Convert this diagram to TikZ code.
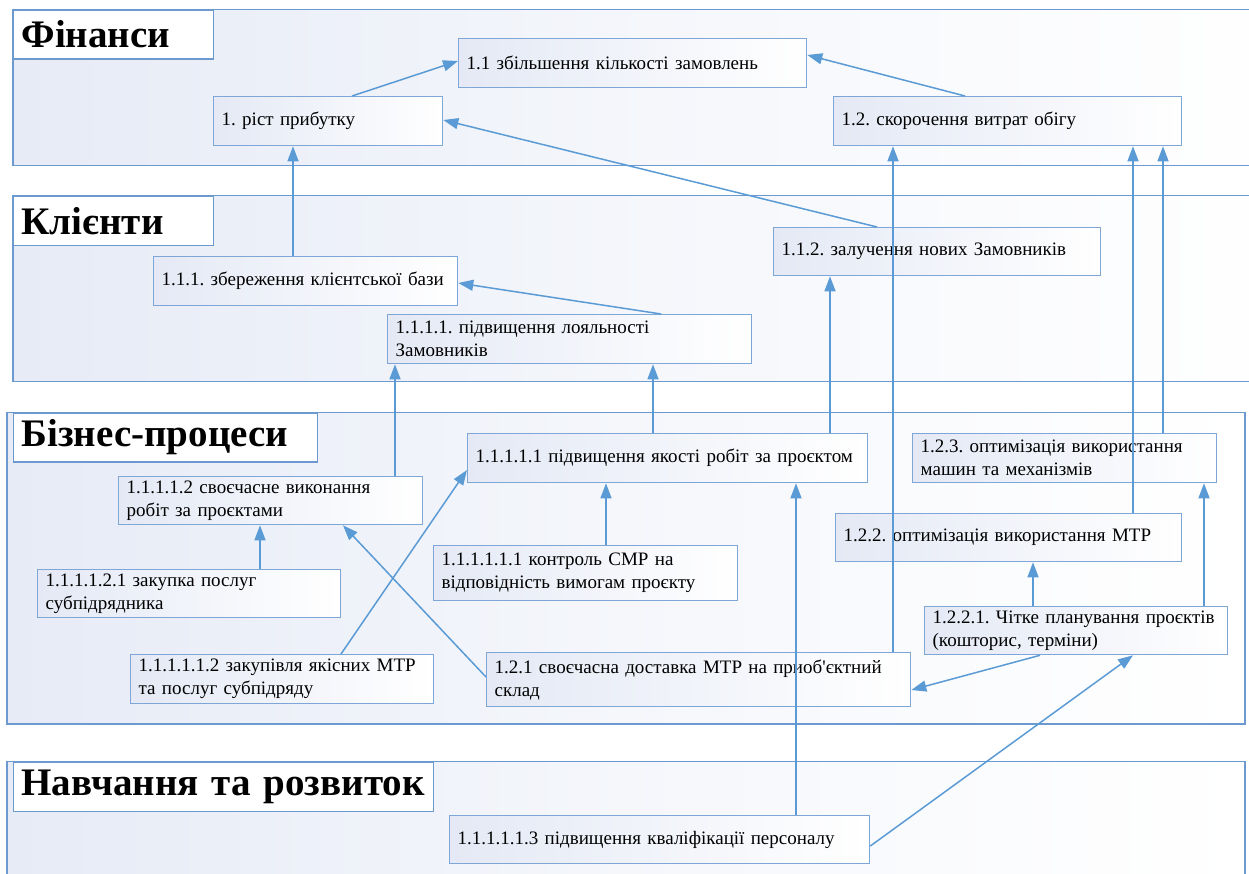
\documentclass[tikz,border=0pt]{standalone}
\usepackage{fontspec}
\setmainfont{Liberation Serif}
\usetikzlibrary{arrows.meta}
\definecolor{arrc}{RGB}{91,155,213}
\definecolor{boxc}{RGB}{126,166,214}
\definecolor{lanec}{RGB}{108,154,208}
\definecolor{boxfill}{RGB}{228,233,245}
\definecolor{lanefill}{RGB}{230,235,246}
\frenchspacing
\tikzset{
  lane/.style={draw=lanec, line width=1.3pt, left color=lanefill, right color=white, middle color=white!60!lanefill},
  ttl/.style={draw=lanec, line width=1.3pt, fill=white, anchor=north west, inner xsep=8pt, inner ysep=0pt,
    align=left, minimum height=49pt, font=\fontsize{39}{44}\selectfont\bfseries},
  box/.style={draw=boxc, line width=1.3pt, left color=boxfill, right color=white, anchor=north west,
    inner xsep=8pt, inner ysep=0pt, align=left, font=\fontsize{19}{23}\selectfont},
  arr/.style={draw=arrc, line width=1.5pt, -{Triangle[length=15pt,width=11pt]}}
}
\begin{document}
\begin{tikzpicture}[x=1pt,y=-1pt]
\useasboundingbox (0,0) rectangle (1249,874);
\clip (0,0) rectangle (1249,874);
% lanes
\path[lane] (13,9.5) rectangle (1300,165.7);
\path[lane] (13,195.7) rectangle (1300,381.7);
\path[lane] (7,412.3) rectangle (1245,724);
\path[lane] (7,761.7) rectangle (1245,920);
% titles
\node[ttl, text width=184pt] (t1) at (13,9.5) {\mbox{Фінанси}};
\node[ttl, text width=184pt] (t2) at (13,195.7) {\mbox{Клієнти}};
\node[ttl, text width=288pt] (t3) at (13,412.3) {\mbox{Бізнес-процеси}};
\node[ttl, text width=404pt] (t4) at (13,761.7) {\mbox{Навчання та розвиток}};
% boxes
\node[box, text width=332pt, minimum height=49pt] (A) at (458,38) {1.1 збільшення кількості замовлень};
\node[box, text width=213pt, minimum height=49pt] (B) at (213,96) {1. ріст прибутку};
\node[box, text width=332pt, minimum height=49pt] (C) at (833,96) {1.2. скорочення витрат обігу};
\node[box, text width=288pt, minimum height=49pt] (D) at (153,256) {1.1.1. збереження клієнтської бази};
\node[box, text width=348pt, minimum height=49pt] (E) at (387,314) {1.1.1.1. підвищення лояльності\\Замовників};
\node[box, text width=311pt, minimum height=48pt] (F) at (773,227) {1.1.2. залучення нових Замовників};
\node[box, text width=288pt, minimum height=48pt] (G) at (118,476) {1.1.1.1.2 своєчасне виконання\\робіт за проєктами};
\node[box, text width=384pt, minimum height=49pt] (H) at (467,433) {1.1.1.1.1 підвищення якості робіт за проєктом};
\node[box, text width=287pt, minimum height=48pt] (I) at (37,569) {1.1.1.1.2.1 закупка послуг\\субпідрядника};
\node[box, text width=288pt, minimum height=55pt] (J) at (433,545) {1.1.1.1.1.1 контроль СМР на\\відповідність вимогам проєкту};
\node[box, text width=287pt, minimum height=49pt] (K) at (130,654) {1.1.1.1.1.2 закупівля якісних МТР\\та послуг субпідряду};
\node[box, text width=408pt, minimum height=54pt] (L) at (486,652) {1.2.1 своєчасна доставка МТР на приоб\textquotesingle єктний\\склад};
\node[box, text width=288pt, minimum height=49pt] (M) at (912,433) {1.2.3. оптимізація використання\\машин та механізмів};
\node[box, text width=330pt, minimum height=48pt] (N) at (835,513) {1.2.2. оптимізація використання МТР};
\node[box, text width=287pt, minimum height=48pt] (O) at (924,606) {1.2.2.1. Чітке планування проєктів\\(кошторис, терміни)};
\node[box, text width=404pt, minimum height=48pt] (P) at (449,815) {1.1.1.1.1.3 підвищення кваліфікації персоналу};
% connectors
\draw[arr] ([xshift=139pt]B.north west) -- ([yshift=-23pt]A.north west);
\draw[arr] ([xshift=132pt]C.north west) -- ([yshift=-17pt]A.north east);
\draw[arr] ([xshift=104pt]F.north west) -- ([yshift=-24pt]B.north east);
\draw[arr] ([xshift=140pt]D.north west) -- ([xshift=80pt]B.south west);
\draw[arr] ([xshift=274pt]E.north west) -- ([yshift=-27pt]D.north east);
\draw[arr] ([xshift=277pt]G.north west) -- ([xshift=8pt]E.south west);
\draw[arr] ([xshift=186pt]H.north west) -- ([xshift=266pt]E.south west);
\draw[arr] ([xshift=363pt]H.north west) -- ([xshift=57pt]F.south west);
\draw[arr] ([xshift=223pt]I.north west) -- ([xshift=142pt]G.south west);
\draw[arr] ([xshift=173pt]J.north west) -- ([xshift=139pt]H.south west);
\draw[arr] ([xshift=211pt]K.north west) -- ([yshift=-37pt]H.north west);
\draw[arr] ([yshift=-25pt]L.north west) -- ([xshift=225pt]G.south west);
\draw[arr] ([xshift=347pt]P.north west) -- ([xshift=329pt]H.south west);
\draw[arr] ([xshift=407pt]L.north west) -- ([xshift=60pt]C.south west);
\draw[arr] ([xshift=298pt]N.north west) -- ([xshift=300pt]C.south west);
\draw[arr] ([xshift=251pt]M.north west) -- ([xshift=330pt]C.south west);
\draw[arr] ([xshift=109pt]O.north west) -- ([xshift=198pt]N.south west);
\draw[arr] ([xshift=280pt]O.north west) -- ([xshift=292pt]M.south west);
\draw[arr] ([xshift=116pt]O.south west) -- ([yshift=-38pt]L.north east);
\draw[arr] ([yshift=-31pt]P.north east) -- ([xshift=209pt]O.south west);
\end{tikzpicture}
\end{document}
